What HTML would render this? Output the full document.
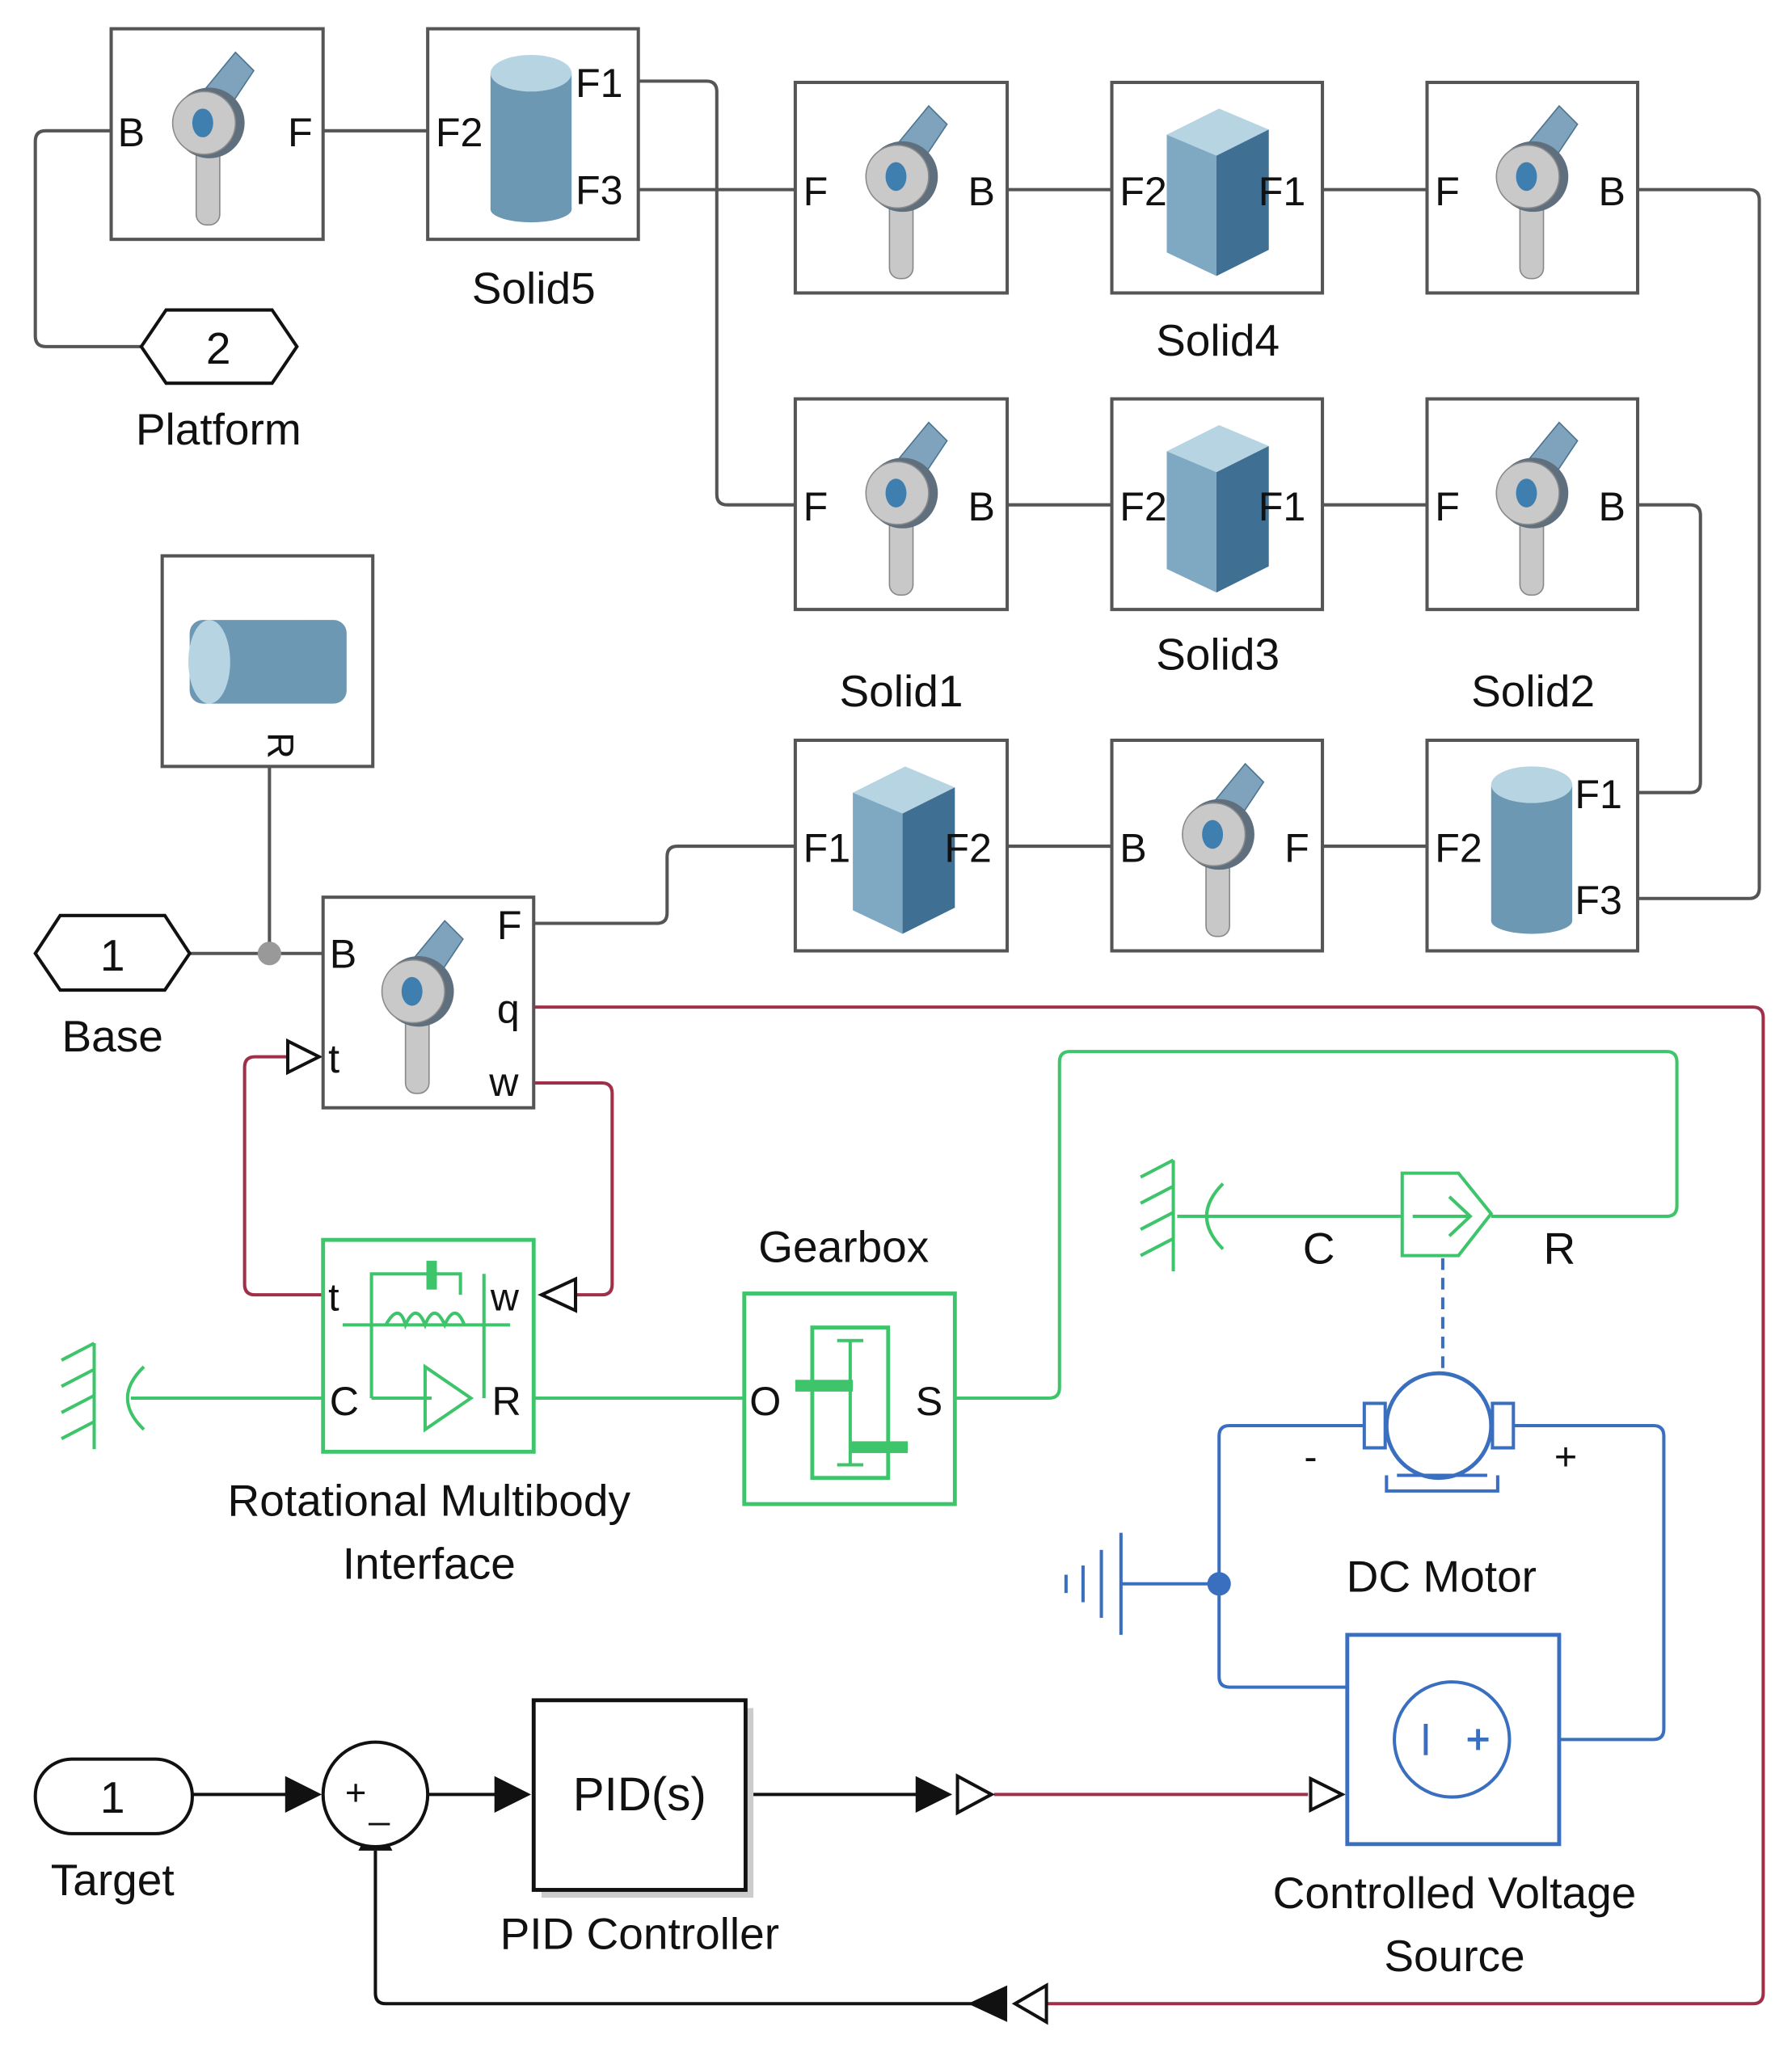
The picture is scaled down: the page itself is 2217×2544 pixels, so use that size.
<!DOCTYPE html>
<html><head><meta charset="utf-8"><style>
html,body{margin:0;padding:0;background:#fff;}
svg{display:block;}
text{font-family:"Liberation Sans",sans-serif;fill:#111;}
</style></head><body>
<svg width="2217" height="2544" viewBox="0 0 1370 1572" preserveAspectRatio="none" xmlns="http://www.w3.org/2000/svg">
<defs>
<g id="rev">
  <path d="M62,52 L90,18 L104,32 L84,62 Z" fill="#7fa3bd" stroke="#4d7590" stroke-width="1"/>
  <rect x="60" y="72" width="18" height="78" rx="8" fill="#c8c8c8" stroke="#888"/>
  <circle cx="70" cy="72" r="27" fill="#5f6f7d"/>
  <circle cx="66" cy="72" r="24" fill="#c9c9c9" stroke="#8a8a8a"/>
  <ellipse cx="65" cy="72" rx="8" ry="11" fill="#3f7fb0"/>
</g>
<g id="box">
  <polygon points="42,40 82,20 120,36 80,56" fill="#b7d4e3"/>
  <polygon points="42,40 80,56 80,148 42,130" fill="#7fa9c3"/>
  <polygon points="80,56 120,36 120,128 80,148" fill="#3f6f92"/>
</g>
<g id="cyl">
  <rect x="48" y="34" width="62" height="104" fill="#6c98b4"/>
  <ellipse cx="79" cy="138" rx="31" ry="10" fill="#6c98b4"/>
  <ellipse cx="79" cy="34" rx="31" ry="14" fill="#b7d4e3"/>
</g>
</defs>
<g fill="none" stroke="#555" stroke-width="2.5">
  <path d="M85,100 H35 Q27,100 27,108 V257 Q27,265 35,265 H108"/>
  <path d="M247,100 H327"/>
  <path d="M488,62 H540 Q548,62 548,70 V378 Q548,386 556,386 H608"/>
  <path d="M488,145 H608"/>
  <path d="M770,145 H850 M1011,145 H1091"/>
  <path d="M1252,145 H1337 Q1345,145 1345,153 V679 Q1345,687 1337,687 H1252"/>
  <path d="M770,386 H850 M1011,386 H1091"/>
  <path d="M1252,386 H1292 Q1300,386 1300,394 V598 Q1300,606 1292,606 H1252"/>
  <path d="M770,647 H850 M1011,647 H1091"/>
  <path d="M408,706 H502 Q510,706 510,698 V655 Q510,647 518,647 H608"/>
  <path d="M145,729 H247 M206,586 V729"/>
</g>
<circle cx="206" cy="729" r="9" fill="#999"/>
<g fill="none" stroke="#a0304a" stroke-width="2.5">
  <path d="M408,770 H1340 Q1348,770 1348,778 V1524 Q1348,1532 1340,1532 H800"/>
  <path d="M408,828 H460 Q468,828 468,836 V982 Q468,990 460,990 H440"/>
  <path d="M247,990 H195 Q187,990 187,982 V816 Q187,808 195,808 H220"/>
  <path d="M760,1372 H1000"/>
</g>
<g fill="none" stroke="#111" stroke-width="2.5">
  <path d="M770,1532 H295 Q287,1532 287,1524 V1415"/>
  <path d="M147,1372 H220 M327,1372 H380 M570,1372 H702"/>
</g>
<polygon points="770,1518 770,1546 740,1532" fill="#111"/>
<polygon points="800,1518 800,1546 776,1532" fill="#fff" stroke="#111" stroke-width="2.5"/>
<polygon points="274,1415 300,1415 287,1390" fill="#111"/>
<polygon points="218,1358 218,1386 246,1372" fill="#111"/>
<polygon points="378,1358 378,1386 406,1372" fill="#111"/>
<polygon points="700,1358 700,1386 728,1372" fill="#111"/>
<polygon points="732,1358 732,1386 758,1372" fill="#fff" stroke="#111" stroke-width="2.5"/>
<polygon points="1002,1360 1002,1384 1026,1372" fill="#fff" stroke="#111" stroke-width="2.5"/>
<polygon points="440,978 440,1002 414,990" fill="#fff" stroke="#111" stroke-width="2.5"/>
<polygon points="220,796 220,820 244,808" fill="#fff" stroke="#111" stroke-width="2.5"/>

<g fill="#fff" stroke="#555" stroke-width="2.5">
  <rect x="85" y="22" width="162" height="161"/>
  <rect x="327" y="22" width="161" height="161"/>
  <rect x="608" y="63" width="162" height="161"/><rect x="850" y="63" width="161" height="161"/><rect x="1091" y="63" width="161" height="161"/>
  <rect x="608" y="305" width="162" height="161"/><rect x="850" y="305" width="161" height="161"/><rect x="1091" y="305" width="161" height="161"/>
  <rect x="608" y="566" width="162" height="161"/><rect x="850" y="566" width="161" height="161"/><rect x="1091" y="566" width="161" height="161"/>
  <rect x="124" y="425" width="161" height="161"/>
  <rect x="247" y="686" width="161" height="161"/>
</g>
<use href="#rev" x="90" y="22"/>
<use href="#cyl" x="327" y="22"/>
<use href="#rev" x="620" y="63"/><use href="#box" x="850" y="63"/><use href="#rev" x="1102" y="63"/>
<use href="#rev" x="620" y="305"/><use href="#box" x="850" y="305"/><use href="#rev" x="1102" y="305"/>
<use href="#box" x="610" y="566"/><use href="#rev" x="862" y="566"/><use href="#cyl" x="1092" y="566"/>
<use href="#rev" x="250" y="686"/>
<rect x="145" y="474" width="120" height="64" rx="10" fill="#6c98b4"/>
<ellipse cx="160" cy="506" rx="16" ry="32" fill="#b7d4e3"/>
<text x="205" y="570" font-size="28" text-anchor="middle" transform="rotate(90 205 570)">R</text>

<g font-size="31">
<text x="90" y="112">B</text><text x="220" y="112">F</text>
<text x="333" y="112">F2</text><text x="440" y="74">F1</text><text x="440" y="156">F3</text>
<text x="614" y="157">F</text><text x="740" y="157">B</text><text x="856" y="157">F2</text><text x="962" y="157">F1</text><text x="1097" y="157">F</text><text x="1222" y="157">B</text>
<text x="614" y="398">F</text><text x="740" y="398">B</text><text x="856" y="398">F2</text><text x="962" y="398">F1</text><text x="1097" y="398">F</text><text x="1222" y="398">B</text>
<text x="614" y="659">F1</text><text x="722" y="659">F2</text><text x="856" y="659">B</text><text x="982" y="659">F</text><text x="1097" y="659">F2</text><text x="1204" y="618">F1</text><text x="1204" y="699">F3</text>
<text x="252" y="740">B</text><text x="380" y="718">F</text><text x="380" y="782">q</text><text x="374" y="838">w</text><text x="251" y="820">t</text>
</g>
<g font-size="34" text-anchor="middle">
<text x="408" y="232">Solid5</text><text x="931" y="272">Solid4</text>
<text x="689" y="540">Solid1</text><text x="931" y="512">Solid3</text><text x="1172" y="540">Solid2</text>
<text x="167" y="340">Platform</text><text x="86" y="804">Base</text>
<text x="645" y="965">Gearbox</text>
<text x="328" y="1159">Rotational Multibody</text><text x="328" y="1207">Interface</text>
<text x="1102" y="1217">DC Motor</text>
<text x="1112" y="1459">Controlled Voltage</text><text x="1112" y="1507">Source</text>
<text x="86" y="1449">Target</text><text x="489" y="1490">PID Controller</text>
</g>
<polygon points="108,265 127,237 208,237 227,265 208,293 127,293" fill="#fff" stroke="#111" stroke-width="2.5"/>
<text x="167" y="278" font-size="34" text-anchor="middle">2</text>
<polygon points="27,729 46,700 126,700 145,729 126,757 46,757" fill="#fff" stroke="#111" stroke-width="2.5"/>
<text x="86" y="742" font-size="34" text-anchor="middle">1</text>
<rect x="27" y="1345" width="120" height="57" rx="28" fill="#fff" stroke="#111" stroke-width="2.5"/>
<text x="86" y="1386" font-size="34" text-anchor="middle">1</text>
<circle cx="287" cy="1372" r="40" fill="#fff" stroke="#111" stroke-width="2.5"/>
<text x="272" y="1380" font-size="28" text-anchor="middle">+</text><text x="290" y="1390" font-size="28" text-anchor="middle">_</text>
<rect x="414" y="1306" width="162" height="145" fill="#ccc"/>
<rect x="408" y="1300" width="162" height="145" fill="#fff" stroke="#111" stroke-width="3"/>
<text x="489" y="1384" font-size="36" text-anchor="middle">PID(s)</text>

<g fill="none" stroke="#3ec46a" stroke-width="2.5">
  <path d="M100,1069 H247 M408,1069 H569"/>
  <path d="M730,1069 H802 Q810,1069 810,1061 V812 Q810,804 818,804 H1274 Q1282,804 1282,812 V922 Q1282,930 1274,930 H1140"/>
  <path d="M900,930 H1072"/>
  <rect x="247" y="948" width="161" height="162" stroke-width="3"/>
  <rect x="569" y="989" width="161" height="161" stroke-width="3"/>
  <rect x="621" y="1015" width="58" height="115" stroke-width="3"/>
  <path d="M47,1040 L72,1027 M47,1060 L72,1047 M47,1080 L72,1067 M47,1100 L72,1087 M72,1027 V1108"/>
  <path d="M110,1045 Q85,1069 110,1093"/>
  <path d="M872,900 L897,887 M872,920 L897,907 M872,940 L897,927 M872,960 L897,947 M897,887 V972"/>
  <path d="M935,905 Q910,930 935,955"/>
  <path d="M284,1069 V974 H352 V990 M284,1069 H330 M370,1069 V974 M262,1013 H390"/>
  <path d="M295,1013 Q305,995 310,1013 Q318,995 325,1013 Q332,995 340,1013 Q348,995 355,1013"/>
  <polygon points="325,1045 360,1069 325,1093"/>
  <path d="M650,1025 V1120 M640,1025 H660 M640,1120 H660"/>
  <path d="M1072,897 H1115 L1140,928 L1115,960 H1072 Z M1080,930 H1122 M1108,915 L1124,930 L1108,945"/>
</g>
<rect x="608" y="1055" width="44" height="9" fill="#3ec46a"/>
<rect x="650" y="1102" width="44" height="9" fill="#3ec46a"/>
<rect x="326" y="964" width="8" height="22" fill="#3ec46a"/>
<text x="251" y="1002" font-size="30">t</text><text x="375" y="1002" font-size="30">w</text>
<text x="252" y="1082" font-size="31">C</text><text x="376" y="1082" font-size="31">R</text>
<text x="573" y="1082" font-size="31">O</text><text x="700" y="1082" font-size="31">S</text>
<text x="996" y="966" font-size="34">C</text><text x="1180" y="966" font-size="34">R</text>
<path d="M1103,962 V1050" stroke="#3a6fc0" stroke-width="2.5" stroke-dasharray="9,6"/>

<g fill="none" stroke="#3a6fc0" stroke-width="2.5">
  <path d="M1043,1090 H940 Q932,1090 932,1098 V1282 Q932,1290 940,1290 H1030"/>
  <path d="M1157,1090 H1264 Q1272,1090 1272,1098 V1322 Q1272,1330 1264,1330 H1192"/>
  <path d="M857,1211 H932"/>
  <path d="M857,1172 V1250 M842,1185 V1237 M828,1197 V1225 M815,1204 V1218"/>
  <rect x="1030" y="1250" width="162" height="160" stroke-width="3"/>
  <circle cx="1110" cy="1330" r="44"/>
  <circle cx="1100" cy="1090" r="40" stroke-width="3"/>
  <rect x="1043" y="1073" width="16" height="34"/><rect x="1141" y="1073" width="16" height="34"/>
  <path d="M1060,1128 V1140 H1145 V1128 M1068,1128 H1137"/>
</g>
<circle cx="932" cy="1211" r="9" fill="#3a6fc0"/>
<path d="M1090,1318 V1342 M1122,1330 H1138 M1130,1322 V1338" stroke="#3a6fc0" stroke-width="3"/>
<text x="1002" y="1124" font-size="30" text-anchor="middle">-</text>
<text x="1197" y="1124" font-size="30" text-anchor="middle">+</text>
</svg>
</body></html>
